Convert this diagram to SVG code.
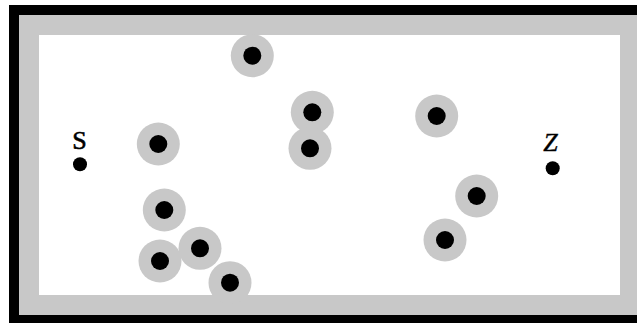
<svg xmlns="http://www.w3.org/2000/svg" width="637" height="323" viewBox="0 0 637 323">
<style>
.halo{fill:#c8c8c8}
.core{fill:#000}
.pt{fill:#000}
.lbl{font-family:"Liberation Serif","DejaVu Serif",serif;font-size:26px;fill:#000;text-anchor:middle}
</style>
<defs>
<g id="obs"><circle class="halo" r="21.5"/><circle class="core" r="9"/></g>
</defs>
<rect x="9" y="5" width="640" height="330" fill="#000"/>
<rect x="19" y="15" width="630" height="300" fill="#c8c8c8"/>
<rect x="39" y="35" width="581" height="260" fill="#fff"/>
<g id="obstacles">
<use href="#obs" x="252.3" y="55.7"/>
<use href="#obs" x="312.3" y="112.3"/>
<use href="#obs" x="310" y="148.3"/>
<use href="#obs" x="436.7" y="116"/>
<use href="#obs" x="158.3" y="144"/>
<use href="#obs" x="164.3" y="210"/>
<use href="#obs" x="160" y="261"/>
<use href="#obs" x="200" y="248.3"/>
<use href="#obs" x="230" y="282.7"/>
<use href="#obs" x="476.7" y="196"/>
<use href="#obs" x="445" y="240"/>
</g>
<g id="S"><circle class="pt" cx="80" cy="164.3" r="7"/><text class="lbl" x="79.5" y="148.5" stroke="#000" stroke-width="0.6">S</text></g>
<g id="Z"><circle class="pt" cx="552.7" cy="168.3" r="7"/><text class="lbl" x="550.5" y="151" font-style="italic" stroke="#000" stroke-width="0.4">Z</text></g>
<g id="connectors"/>
</svg>
